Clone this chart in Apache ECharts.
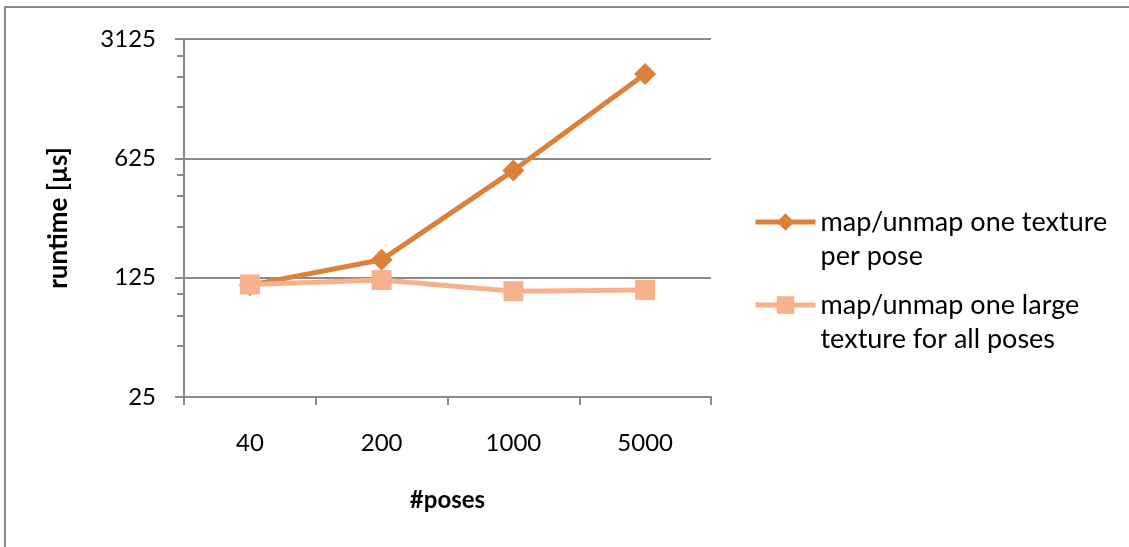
<!DOCTYPE html>
<html lang="en">
<head>
    <meta charset="UTF-8">
    <title>runtime vs poses</title>
    <script src="https://cdn.jsdelivr.net/npm/echarts@6/dist/echarts.min.js"></script>
    <style>
        html, body { margin: 0; padding: 0; background: #fff; }
        .frame {
            position: absolute;
            left: 4px; top: 6px;
            width: 1140px; height: 560px;
            border-top: 2px solid #8a8a8a;
            border-left: 2px solid #8a8a8a;
        }
        #chart {
            position: absolute;
            left: 0; top: 0;
            width: 1129px; height: 547px;
        }
    </style>
</head>
<body>
    <div class="frame"></div>
    <div id="chart"></div>
    <script>
        // data
        var poses = ['40', '200', '1000', '5000'];
        var seriesNames = ['map/unmap one texture per pose', 'map/unmap one large texture for all poses'];
        var legendLines = {
            'map/unmap one texture per pose': 'map/unmap one texture\nper pose',
            'map/unmap one large texture for all poses': 'map/unmap one large\ntexture for all poses'
        };
        var perPose = [113, 159, 530, 1950];
        var largeTexture = [114, 121, 104, 106];
        var majorTicks = [25, 125, 625, 3125];
        var minorTicks = [50, 75, 100, 250, 375, 500, 1250, 1875, 2500];

        var font = 'Lato, "Open Sans", sans-serif';
        var gray = '#8a8a8a';

        function legendOpt(name, top) {
            return {
                data: [name],
                left: 753,
                top: top,
                padding: 0,
                orient: 'vertical',
                itemWidth: 60,
                itemHeight: 22,
                itemGap: 0,
                lineStyle: { width: 5 },
                textStyle: {
                    fontFamily: font,
                    fontSize: 27,
                    color: '#000',
                    lineHeight: 34,
                    rich: { pad: { lineHeight: 34, fontSize: 27 } }
                },
                // empty first row pushes the icon level with the first text line
                formatter: function (n) { return '{pad| }\n' + legendLines[n]; }
            };
        }

        var chart = echarts.init(document.getElementById('chart'));
        chart.setOption({
            animation: false,
            grid: { left: 184, right: 418, top: 39, bottom: 150 },
            legend: [legendOpt(seriesNames[0], 171), legendOpt(seriesNames[1], 254)],
            xAxis: {
                type: 'category',
                data: poses,
                boundaryGap: true,
                name: '#poses',
                nameLocation: 'middle',
                nameGap: 91,
                nameTextStyle: { fontFamily: font, fontSize: 24, fontWeight: 'bold', color: '#000' },
                axisLine: { lineStyle: { color: gray, width: 2 } },
                axisTick: { show: true, length: 8, lineStyle: { color: gray, width: 2 } },
                axisLabel: { fontFamily: font, fontSize: 24, color: '#000', margin: 34 }
            },
            yAxis: [
                {
                    type: 'log',
                    logBase: 5,
                    min: 25,
                    max: 3125,
                    name: 'runtime [µs]',
                    nameLocation: 'middle',
                    nameGap: 112,
                    nameRotate: 90,
                    nameTextStyle: { fontFamily: font, fontSize: 26, fontWeight: 'bold', color: '#000' },
                    axisLine: { show: true, lineStyle: { color: gray, width: 2 } },
                    axisTick: { show: true, length: 9, lineStyle: { color: gray, width: 2 } },
                    axisLabel: {
                        fontFamily: font, fontSize: 24, color: '#000', margin: 28,
                        customValues: majorTicks,
                        formatter: function (v) { return String(Math.round(v)); }
                    },
                    splitLine: { show: true, lineStyle: { color: gray, width: 2 } }
                },
                {
                    // minor ticks only
                    type: 'log',
                    logBase: 5,
                    min: 25,
                    max: 3125,
                    position: 'left',
                    axisLine: { show: false },
                    axisTick: {
                        show: true,
                        length: 7,
                        customValues: minorTicks,
                        lineStyle: { color: gray, width: 2 }
                    },
                    axisLabel: { show: false },
                    splitLine: { show: false }
                }
            ],
            series: [
                {
                    name: seriesNames[0],
                    type: 'line',
                    data: perPose,
                    symbol: 'diamond',
                    symbolSize: 22,
                    itemStyle: { color: '#dc8139' },
                    lineStyle: { color: '#dc8139', width: 5 },
                    z: 2
                },
                {
                    name: seriesNames[1],
                    type: 'line',
                    data: largeTexture,
                    symbol: 'rect',
                    symbolSize: 20,
                    itemStyle: { color: '#f6b28c' },
                    lineStyle: { color: '#f6b28c', width: 5 },
                    z: 3
                }
            ]
        });
    </script>
</body>
</html>
